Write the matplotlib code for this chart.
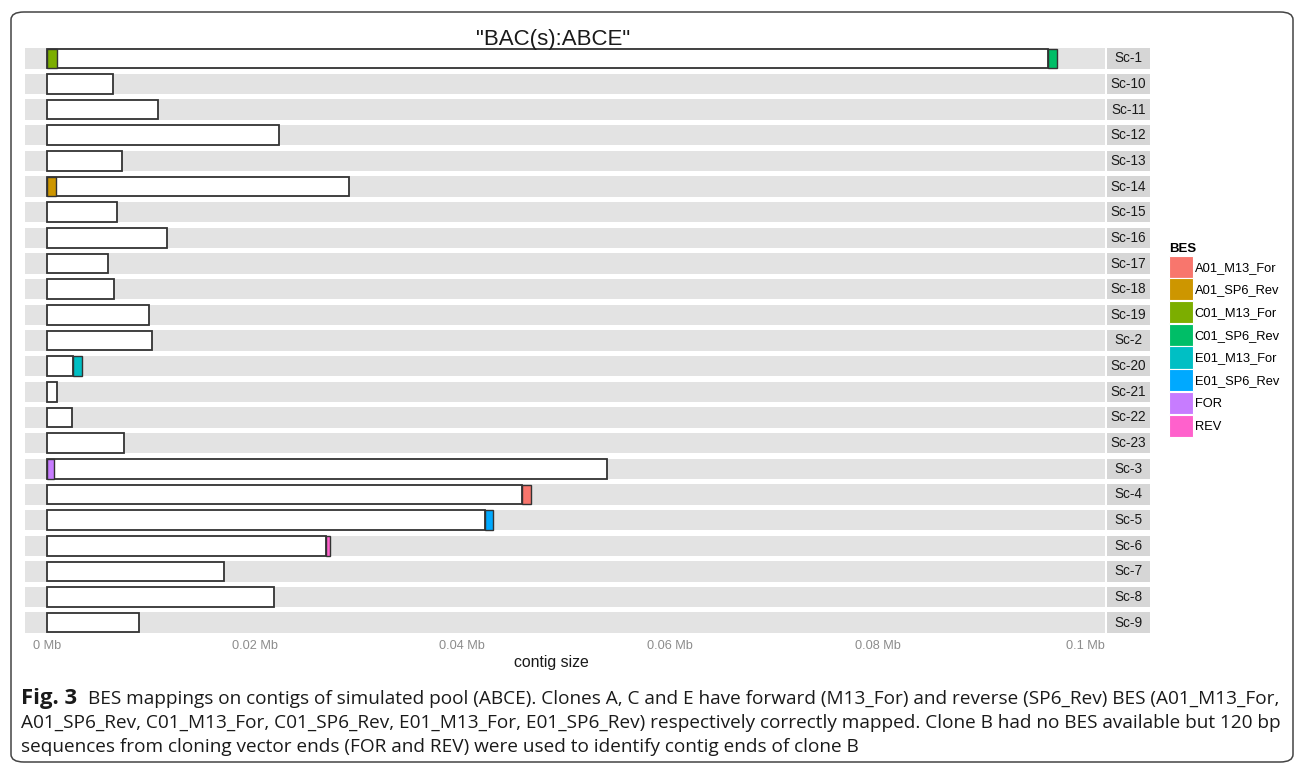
import matplotlib
matplotlib.use("Agg")
import matplotlib.pyplot as plt
from matplotlib.patches import Patch, FancyBboxPatch
import numpy as np

# contigs, top to bottom, with white bar lengths in Mb
contigs = ["Sc-1", "Sc-10", "Sc-11", "Sc-12", "Sc-13", "Sc-14", "Sc-15", "Sc-16",
           "Sc-17", "Sc-18", "Sc-19", "Sc-2", "Sc-20", "Sc-21", "Sc-22", "Sc-23",
           "Sc-3", "Sc-4", "Sc-5", "Sc-6", "Sc-7", "Sc-8", "Sc-9"]
contig_len = [0.0964, 0.00635, 0.01068, 0.02233, 0.00722, 0.02907, 0.00674, 0.01155,
              0.00587, 0.00645, 0.00982, 0.01011, 0.00250, 0.00096, 0.00241, 0.00741,
              0.0539, 0.04572, 0.04216, 0.02685, 0.01704, 0.02185, 0.00885]

# BES hits: contig, label, start, end (Mb)
bes_contig = ["Sc-1", "Sc-1", "Sc-14", "Sc-20", "Sc-3", "Sc-4", "Sc-5", "Sc-6"]
bes_label = ["C01_M13_For", "C01_SP6_Rev", "A01_SP6_Rev", "E01_M13_For", "FOR",
             "A01_M13_For", "E01_SP6_Rev", "REV"]
bes_start = [0.0, 0.0964, 0.0, 0.00250, 0.0, 0.04572, 0.04216, 0.02685]
bes_end = [0.00096, 0.0973, 0.00090, 0.00337, 0.00067, 0.04658, 0.04293, 0.02724]

legend_labels = ["A01_M13_For", "A01_SP6_Rev", "C01_M13_For", "C01_SP6_Rev",
                 "E01_M13_For", "E01_SP6_Rev", "FOR", "REV"]
legend_colors = ["#F8766D", "#CD9600", "#7CAE00", "#00BE67",
                 "#00BFC4", "#00A9FF", "#C77CFF", "#FF61CC"]
xticks = [0.0, 0.02, 0.04, 0.06, 0.08, 0.1]
xtick_labels = ["0 Mb", "0.02 Mb", "0.04 Mb", "0.06 Mb", "0.08 Mb", "0.1 Mb"]

caption_bold = "Fig. 3"
caption_lines = [
    "BES mappings on contigs of simulated pool (ABCE). Clones A, C and E have forward (M13_For) and reverse (SP6_Rev) BES (A01_M13_For,",
    "A01_SP6_Rev, C01_M13_For, C01_SP6_Rev, E01_M13_For, E01_SP6_Rev) respectively correctly mapped. Clone B had no BES available but 120 bp",
    "sequences from cloning vector ends (FOR and REV) were used to identify contig ends of clone B",
]

W, H = 1295, 764
plt.rcParams["font.family"] = ["Liberation Sans", "DejaVu Sans"]
fig = plt.figure(figsize=(W / 100, H / 100), dpi=100)


def fx(px):
    return px / W


def fy(py):
    return 1 - py / H


# outer frame
frame = FancyBboxPatch((fx(11), fy(762)), fx(1293) - fx(11), fy(12) - fy(762),
                       boxstyle="round,pad=0,rounding_size=0.010",
                       transform=fig.transFigure, facecolor="none",
                       edgecolor="#444444", linewidth=1.1)
fig.patches.append(frame)

panel_bottom, panel_top = fy(633), fy(48)
ax = fig.add_axes([fx(25), panel_bottom, fx(1105) - fx(25), panel_top - panel_bottom])
sax = fig.add_axes([fx(1107), panel_bottom, fx(1150) - fx(1107), panel_top - panel_bottom],
                   sharey=ax)

n = len(contigs)
ypos = np.arange(n)
color_of = dict(zip(legend_labels, legend_colors))

# facet panel backgrounds
ax.barh(ypos, 0.1019 + 0.0021, left=-0.0021, height=0.8, color="#e3e3e3", zorder=0)
# contigs
ax.barh(ypos, contig_len, left=0, height=0.76, color="white",
        edgecolor="#333333", linewidth=1.3, zorder=2)
# BES segments
idx = {c: i for i, c in enumerate(contigs)}
for c, lab, s, e in zip(bes_contig, bes_label, bes_start, bes_end):
    ax.barh(idx[c], e - s, left=s, height=0.76, color=color_of[lab],
            edgecolor="#333333", linewidth=1.0, zorder=3)

ax.set_xlim(-0.0021, 0.1019)
ax.set_ylim(n - 0.6, -0.4)
ax.set_xticks(xticks)
ax.set_xticklabels(xtick_labels, fontsize=9.2, color="#8c8c8c")
ax.tick_params(axis="x", length=0, pad=5)
ax.tick_params(axis="y", left=False, labelleft=False)
for sp in ax.spines.values():
    sp.set_visible(False)

# strip labels
sax.barh(ypos, 1, left=0, height=0.8, color="#d6d6d6")
for i, c in enumerate(contigs):
    sax.text(0.5, i, c, ha="center", va="center", fontsize=9.8, color="#1a1a1a")
sax.set_xlim(0, 1)
sax.axis("off")

fig.text(fx(553), fy(39), '"BAC(s):ABCE"', ha="center", va="center", fontsize=16,
         color="#1a1a1a")
fig.text(fx(551), fy(662), "contig size", ha="center", va="center", fontsize=11.4,
         color="#1a1a1a")

handles = [Patch(facecolor=c, edgecolor="white", linewidth=0.8) for c in legend_colors]
leg = fig.legend(handles, legend_labels, title="BES", loc="upper left",
                 bbox_to_anchor=(fx(1160), fy(234)), frameon=False, fontsize=9.3,
                 title_fontproperties={"weight": "bold", "size": 9.5},
                 handlelength=1.86, handleheight=2.25, labelspacing=0.05,
                 handletextpad=0.12, alignment="left", borderpad=0.2)

# caption, sized to span the same width as the reference lines
cap_font = ["Open Sans", "DejaVu Sans"]
renderer = fig.canvas.get_renderer()
bold = fig.text(fx(21), fy(704), caption_bold, ha="left", va="baseline", fontsize=12,
                fontweight="bold", family=cap_font, color="#1a1a1a")
bw = bold.get_window_extent(renderer).width
bold.set_fontsize(12 * 56 / bw)

line_x = [88, 21, 21]
line_y = [704, 728, 752]
cap_texts = []
for lx, ly, txt in zip(line_x, line_y, caption_lines):
    cap_texts.append(fig.text(fx(lx), fy(ly), txt, ha="left", va="baseline",
                              fontsize=12, family=cap_font, color="#1a1a1a"))
w1 = cap_texts[0].get_window_extent(renderer).width
cap_size = 12 * (1278 - 88) / w1
for t in cap_texts:
    t.set_fontsize(cap_size)

fig.savefig("out.png", dpi=100)
